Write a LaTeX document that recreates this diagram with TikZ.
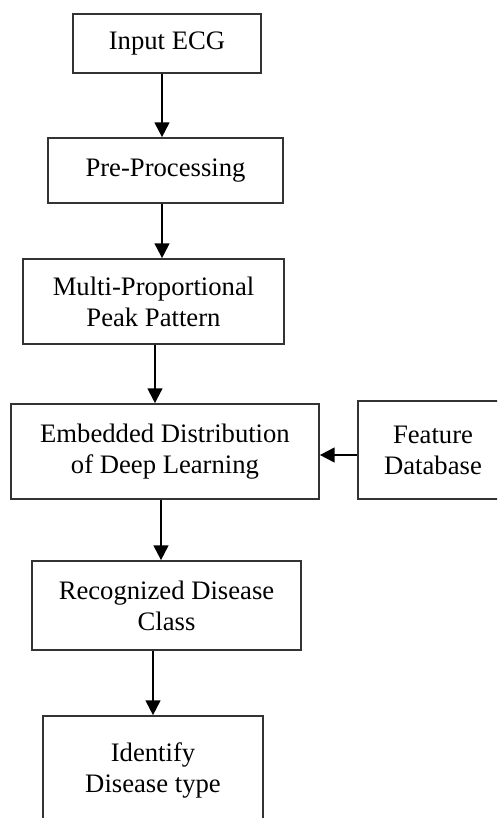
\documentclass[tikz,border=0pt]{standalone}
\usepackage{fontspec}
\setmainfont{Liberation Serif}
\usepackage{tikz}
\usetikzlibrary{arrows.meta,positioning}

\tikzset{
  stage/.style={draw=black!80, line width=1.3pt, fill=white, align=center, inner sep=0pt,
    font=\fontsize{20}{23.25}\selectfont},
  flow/.style={line width=1.5pt, -{Triangle[length=11pt, width=11pt]}}
}

\begin{document}
\begin{tikzpicture}[x=0.75pt, y=-0.75pt]
\clip (0,0) rectangle (497,818);
\fill[white] (0,0) rectangle (497,818);

% Main chain of stages
\node[stage, minimum width=188*0.75pt, minimum height=59*0.75pt] (input) at (167, 43.5) {Input ECG};
\node[stage, minimum width=235*0.75pt, minimum height=65*0.75pt] (prep) at (165.5, 170.5) {Pre-Processing};
\node[stage, minimum width=261*0.75pt, minimum height=85*0.75pt] (peak) at (153.5, 301.5) {Multi-Proportional\\Peak Pattern};
\node[stage, minimum width=308*0.75pt, minimum height=95*0.75pt] (embed) at (165, 451.5) {Embedded Distribution\\of Deep Learning};
\node[stage, minimum width=269*0.75pt, minimum height=89*0.75pt] (recog) at (166.5, 605.5) {Recognized Disease\\Class};
\node[stage, minimum width=220*0.75pt, minimum height=108*0.75pt] (ident) at (153, 770) {Identify\\Disease type};

% Side input
\node[stage, minimum width=150*0.75pt, minimum height=98*0.75pt] (feat) at (433, 450) {Feature\\Database};

% Arrows
\draw[flow] ([xshift=-3.75pt]input.south) -- ([xshift=-3.75pt]input.south |- prep.north);
\draw[flow] ([xshift=-2.6pt]prep.south) -- ([xshift=-2.6pt]prep.south |- peak.north);
\draw[flow] ([xshift=1.1pt]peak.south) -- ([xshift=1.1pt]peak.south |- embed.north);
\draw[flow] ([xshift=-3pt]embed.south) -- ([xshift=-3pt]embed.south |- recog.north);
\draw[flow] (recog.south -| ident.north) -- (ident.north);
\draw[flow] ([yshift=-3.75pt]feat.west) -- ([yshift=-3.75pt]feat.west -| embed.east);
\end{tikzpicture}
\end{document}
